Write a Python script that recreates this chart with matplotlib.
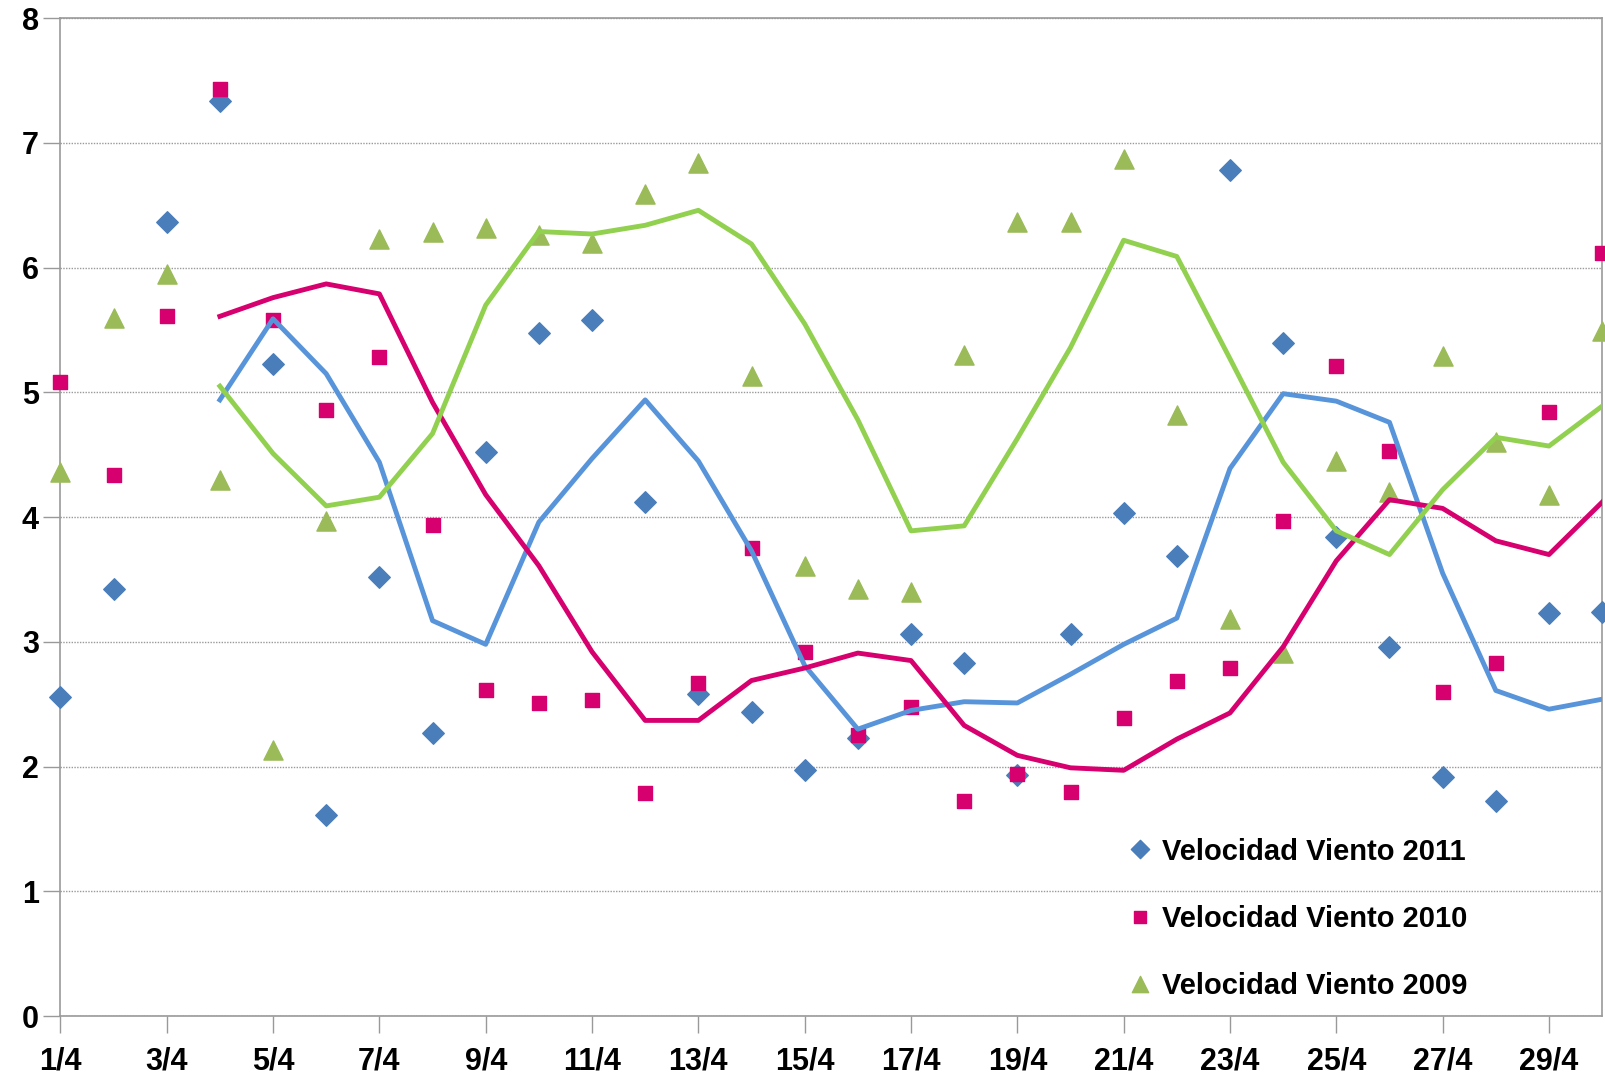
import matplotlib
matplotlib.use("Agg")
from matplotlib import pyplot as plt

# dias de abril
dias = list(range(1, 31))
etiquetas = [f"{d}/4" for d in range(1, 31, 2)]

# velocidad del viento (puntos)
v2011 = [2.56, 3.42, 6.37, 7.34, 5.23, 1.61, 3.52, 2.27, 4.52, 5.48,
         5.58, 4.12, 2.58, 2.44, 1.97, 2.23, 3.06, 2.83, 1.93, 3.06,
         4.03, 3.69, 6.78, 5.40, 3.84, 2.96, 1.92, 1.72, 3.23, 3.24]
v2010 = [5.08, 4.34, 5.61, 7.43, 5.58, 4.86, 5.28, 3.94, 2.61, 2.51,
         2.53, 1.79, 2.67, 3.75, 2.92, 2.25, 2.48, 1.72, 1.94, 1.80,
         2.39, 2.69, 2.79, 3.97, 5.21, 4.53, 2.60, 2.83, 4.84, 6.12]
v2009 = [4.36, 5.60, 5.95, 4.30, 2.13, 3.97, 6.23, 6.29, 6.32, 6.26,
         6.20, 6.59, 6.84, 5.13, 3.61, 3.42, 3.40, 5.30, 6.37, 6.37,
         6.87, 4.82, 3.18, 2.91, 4.45, 4.20, 5.29, 4.60, 4.18, 5.49]

# medias moviles (desde el dia 4)
dias_media = list(range(4, 31))
m2011 = [4.94, 5.59, 5.15, 4.44, 3.17, 2.98, 3.96, 4.47, 4.94, 4.45,
         3.73, 2.81, 2.30, 2.45, 2.52, 2.51, 2.74, 2.98, 3.19, 4.39,
         4.99, 4.93, 4.76, 3.55, 2.61, 2.46, 2.54]
m2010 = [5.61, 5.76, 5.87, 5.79, 4.92, 4.18, 3.61, 2.92, 2.37, 2.37,
         2.69, 2.79, 2.91, 2.85, 2.33, 2.09, 1.99, 1.97, 2.22, 2.43,
         2.96, 3.65, 4.14, 4.07, 3.81, 3.70, 4.12]
m2009 = [5.05, 4.51, 4.09, 4.16, 4.67, 5.70, 6.29, 6.27, 6.34, 6.46,
         6.19, 5.55, 4.78, 3.89, 3.93, 4.63, 5.36, 6.22, 6.09, 5.27,
         4.44, 3.89, 3.70, 4.22, 4.64, 4.57, 4.89]

azul_p, azul_l = "#4A7EBB", "#5894DA"
rosa = "#D6006F"
verde_p, verde_l = "#9BBB59", "#92D050"

plt.rcParams['font.family'] = ['Liberation Sans', 'DejaVu Sans']

fig = plt.figure(figsize=(16.06, 10.74), dpi=100)
ax = fig.add_axes([0.0376, 0.054, 0.96, 0.929])

ax.scatter(dias, v2011, marker="D", s=120, color=azul_p, zorder=3, label="Velocidad Viento 2011", clip_on=False)
ax.scatter(dias, v2010, marker="s", s=110, color=rosa, zorder=3, label="Velocidad Viento 2010", clip_on=False)
ax.scatter(dias, v2009, marker="^", s=190, color=verde_p, zorder=3, label="Velocidad Viento 2009", clip_on=False)

ax.plot(dias_media, m2011, color=azul_l, lw=3.5, zorder=4)
ax.plot(dias_media, m2010, color=rosa, lw=3.5, zorder=4)
ax.plot(dias_media, m2009, color=verde_l, lw=3.5, zorder=4)

ax.set_xlim(1, 30)
ax.set_ylim(0, 8)
ax.set_xticks(range(1, 31, 2))
ax.set_xticklabels(etiquetas)
ax.set_yticks(range(0, 9))
ax.tick_params(axis="both", labelsize=22, length=12, width=1, color="#999999", direction="out")
ax.tick_params(axis="x", pad=10)
for lab in ax.get_xticklabels() + ax.get_yticklabels():
    lab.set_fontweight("bold")

ax.yaxis.grid(True, linestyle=(0, (1, 1)), color="#999999", lw=1)
ax.set_axisbelow(True)
for s in ax.spines.values():
    s.set_color("#999999")
    s.set_linewidth(1.2)

leg = ax.legend(loc="lower right", bbox_to_anchor=(0.92, 0.004), frameon=False,
                fontsize=21, labelspacing=1.35, handlelength=0.9, handletextpad=0.3,
                markerscale=0.85, borderaxespad=0, scatteryoffsets=[0.5])
for t in leg.get_texts():
    t.set_fontweight("bold")

fig.savefig("out.png", dpi=100)
